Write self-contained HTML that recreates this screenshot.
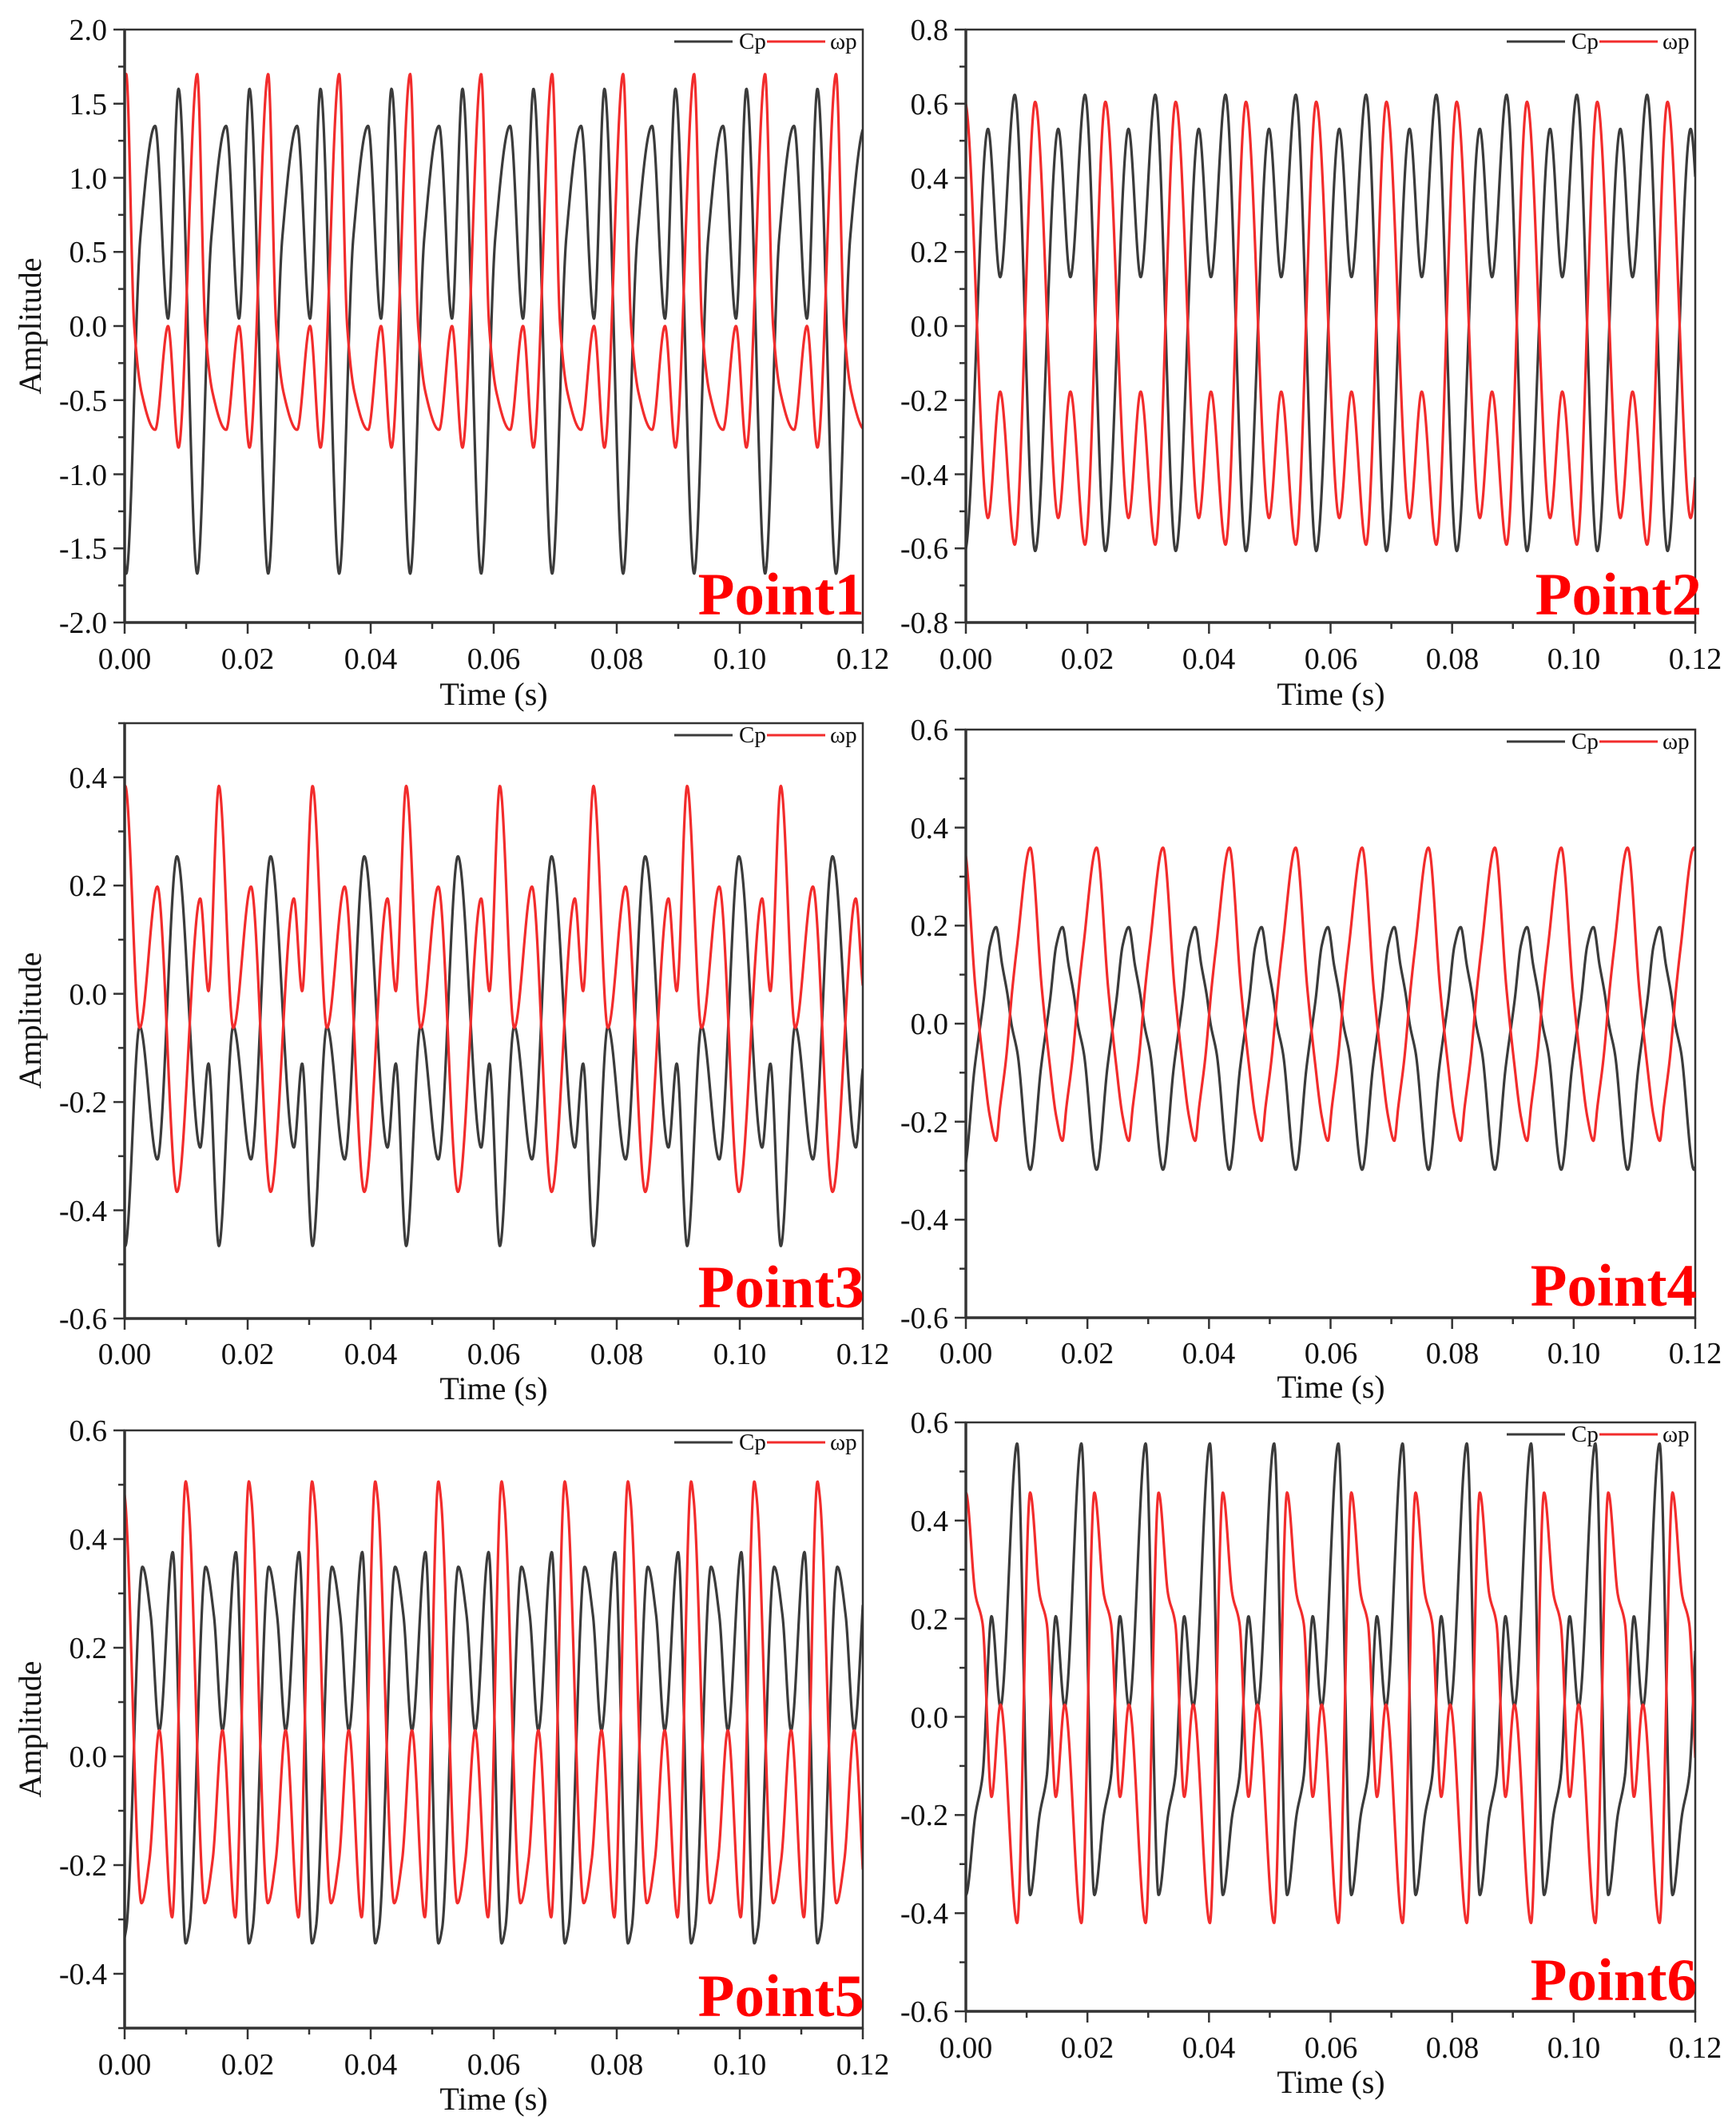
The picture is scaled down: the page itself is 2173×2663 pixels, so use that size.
<!DOCTYPE html>
<html><head><meta charset="utf-8">
<style>
html,body{margin:0;padding:0;background:#fff;}
svg{display:block;}
text{font-family:"Liberation Serif","Times New Roman",serif;fill:#111;}
.t{font-size:38px;}
.ti{font-size:40px;}
.lg{font-size:29px;}
.pt text{font-size:75px;font-weight:bold;fill:#ff0000;}
</style></head><body>
<svg id="s" width="2173" height="2663" viewBox="0 0 2173 2663" xmlns="http://www.w3.org/2000/svg">
<rect width="2173" height="2663" fill="#fff"/>
<g id="g"></g>
<g class="t" text-anchor="end">
<text x="134" y="50">2.0</text><text x="134" y="143">1.5</text><text x="134" y="236">1.0</text><text x="134" y="328">0.5</text><text x="134" y="421">0.0</text><text x="134" y="514">-0.5</text><text x="134" y="607">-1.0</text><text x="134" y="699">-1.5</text><text x="134" y="792">-2.0</text>
<text x="1187" y="50">0.8</text><text x="1187" y="143">0.6</text><text x="1187" y="236">0.4</text><text x="1187" y="328">0.2</text><text x="1187" y="421">0.0</text><text x="1187" y="514">-0.2</text><text x="1187" y="607">-0.4</text><text x="1187" y="699">-0.6</text><text x="1187" y="792">-0.8</text>
<text x="134" y="986">0.4</text><text x="134" y="1121">0.2</text><text x="134" y="1257">0.0</text><text x="134" y="1392">-0.2</text><text x="134" y="1528">-0.4</text><text x="134" y="1663">-0.6</text>
<text x="1187" y="926">0.6</text><text x="1187" y="1049">0.4</text><text x="1187" y="1171">0.2</text><text x="1187" y="1294">0.0</text><text x="1187" y="1417">-0.2</text><text x="1187" y="1539">-0.4</text><text x="1187" y="1662">-0.6</text>
<text x="134" y="1803">0.6</text><text x="134" y="1939">0.4</text><text x="134" y="2075">0.2</text><text x="134" y="2211">0.0</text><text x="134" y="2347">-0.2</text><text x="134" y="2483">-0.4</text>
<text x="1187" y="1793">0.6</text><text x="1187" y="1916">0.4</text><text x="1187" y="2039">0.2</text><text x="1187" y="2162">0.0</text><text x="1187" y="2284">-0.2</text><text x="1187" y="2407">-0.4</text><text x="1187" y="2530">-0.6</text>
</g>
<g class="t" text-anchor="middle">
<text x="156" y="837">0.00</text><text x="310" y="837">0.02</text><text x="464" y="837">0.04</text><text x="618" y="837">0.06</text><text x="772" y="837">0.08</text><text x="926" y="837">0.10</text><text x="1080" y="837">0.12</text>
<text x="1209" y="837">0.00</text><text x="1361" y="837">0.02</text><text x="1513" y="837">0.04</text><text x="1666" y="837">0.06</text><text x="1818" y="837">0.08</text><text x="1970" y="837">0.10</text><text x="2122" y="837">0.12</text>
<text x="156" y="1707">0.00</text><text x="310" y="1707">0.02</text><text x="464" y="1707">0.04</text><text x="618" y="1707">0.06</text><text x="772" y="1707">0.08</text><text x="926" y="1707">0.10</text><text x="1080" y="1707">0.12</text>
<text x="1209" y="1706">0.00</text><text x="1361" y="1706">0.02</text><text x="1513" y="1706">0.04</text><text x="1666" y="1706">0.06</text><text x="1818" y="1706">0.08</text><text x="1970" y="1706">0.10</text><text x="2122" y="1706">0.12</text>
<text x="156" y="2596">0.00</text><text x="310" y="2596">0.02</text><text x="464" y="2596">0.04</text><text x="618" y="2596">0.06</text><text x="772" y="2596">0.08</text><text x="926" y="2596">0.10</text><text x="1080" y="2596">0.12</text>
<text x="1209" y="2575">0.00</text><text x="1361" y="2575">0.02</text><text x="1513" y="2575">0.04</text><text x="1666" y="2575">0.06</text><text x="1818" y="2575">0.08</text><text x="1970" y="2575">0.10</text><text x="2122" y="2575">0.12</text>
</g>
<g class="ti" text-anchor="middle">
<text x="618" y="882">Time (s)</text><text x="1666" y="882">Time (s)</text>
<text x="618" y="1751">Time (s)</text><text x="1666" y="1749">Time (s)</text>
<text x="618" y="2640">Time (s)</text><text x="1666" y="2619">Time (s)</text>
<text transform="translate(51,408) rotate(-90)">Amplitude</text>
<text transform="translate(51,1277) rotate(-90)">Amplitude</text>
<text transform="translate(51,2164) rotate(-90)">Amplitude</text>
</g>
<g class="pt" text-anchor="end">
<text x="1082" y="769">Point1</text><text x="2130" y="769">Point2</text>
<text x="1082" y="1636">Point3</text><text x="2124" y="1634">Point4</text>
<text x="1082" y="2523">Point5</text><text x="2124" y="2503">Point6</text>
</g>
<g class="lg">
<text x="925" y="61">Cp</text><text x="1039" y="61">ωp</text>
<text x="1967" y="61">Cp</text><text x="2081" y="61">ωp</text>
<text x="925" y="929">Cp</text><text x="1039" y="929">ωp</text>
<text x="1967" y="937">Cp</text><text x="2081" y="937">ωp</text>
<text x="925" y="1814">Cp</text><text x="1039" y="1814">ωp</text>
<text x="1967" y="1804">Cp</text><text x="2081" y="1804">ωp</text>
</g>
</svg>
<script>
(function(){
var NS="http://www.w3.org/2000/svg",g=document.getElementById("g");
function el(n,a){var e=document.createElementNS(NS,n);for(var k in a)e.setAttribute(k,a[k]);g.appendChild(e);return e;}
function pchip(xs,ys){var n=xs.length,h=[],d=[],m=[];for(var i=0;i<n-1;i++){h[i]=xs[i+1]-xs[i];d[i]=(ys[i+1]-ys[i])/h[i];}
m[0]=0;m[n-1]=0;for(i=1;i<n-1;i++){if(d[i-1]*d[i]<=0)m[i]=0;else{var w1=2*h[i]+h[i-1],w2=h[i]+2*h[i-1];m[i]=(w1+w2)/(w1/d[i-1]+w2/d[i]);}}
return function(x){var lo=0,hi=n-1;while(hi-lo>1){var mid=(lo+hi)>>1;if(xs[mid]>x)hi=mid;else lo=mid;}
var hh=h[lo],t=(x-xs[lo])/hh,t2=t*t,t3=t2*t;return (2*t3-3*t2+1)*ys[lo]+(t3-2*t2+t)*hh*m[lo]+(-2*t3+3*t2)*ys[lo+1]+(t3-t2)*hh*m[lo+1];};}
var P=[
{x0:156,x1:1080,y0:37,y1:779,mn:-2,mx:2,maj:[-2,-1.5,-1,-0.5,0,0.5,1,1.5,2],mi:0.25,T:0.01154,t0:0.00026,
B:[[0,-1.67],[0.0023,0.6],[0.0047,1.35],[0.0068,0.05],[0.0085,1.6]],
R:[[0,1.7],[0.0013,0],[0.0025,-0.45],[0.0047,-0.7],[0.0068,0.0],[0.0085,-0.82]]},
{x0:1209,x1:2122,y0:37,y1:779,mn:-0.8,mx:0.8,maj:[-0.8,-0.6,-0.4,-0.2,0,0.2,0.4,0.6,0.8],mi:0.1,T:0.01156,t0:-0.00016,
B:[[0,-0.607],[0.0038,0.532],[0.0058,0.132],[0.0082,0.624]],
R:[[0,0.605],[0.0038,-0.518],[0.0058,-0.177],[0.0082,-0.59]]},
{x0:156,x1:1080,y0:905,y1:1650,mn:-0.6,mx:0.5,maj:[-0.6,-0.4,-0.2,0,0.2,0.4],mi:0.1,T:0.015224,t0:0.0001,
B:[[0,-0.466],[0.00234,-0.06],[0.00522,-0.306],[0.00841,0.254],[0.01219,-0.284],[0.01353,-0.129]],
R:[[0,0.384],[0.00234,-0.063],[0.00522,0.198],[0.00841,-0.366],[0.01219,0.176],[0.01353,0.005]]},
{x0:1209,x1:2122,y0:913,y1:1649,mn:-0.6,mx:0.6,maj:[-0.6,-0.4,-0.2,0,0.2,0.4,0.6],mi:0.1,T:0.01092,t0:-0.00033,
B:[[0,-0.298],[0.00177,-0.09],[0.00328,0.05],[0.00429,0.16],[0.0053,0.197],[0.0063,0.12],[0.00721,0.057],[0.00782,0.0],[0.00882,-0.06]],
R:[[0,0.359],[0.00192,0.07],[0.00318,-0.08],[0.00429,-0.19],[0.0053,-0.239],[0.00595,-0.17],[0.00696,-0.07],[0.00797,0.07],[0.00872,0.155]]},
{x0:156,x1:1080,y0:1790,y1:2538,mn:-0.5,mx:0.6,maj:[-0.4,-0.2,0,0.2,0.4,0.6],mi:0.1,T:0.01027,t0:-0.00034,
B:[[0,-0.344],[0.0006,-0.317],[0.00323,0.349],[0.00458,0.26],[0.00597,0.048],[0.00816,0.376]],
R:[[0,0.506],[0.0004,0.475],[0.00308,-0.27],[0.00438,-0.19],[0.00597,0.048],[0.00806,-0.296]]},
{x0:1209,x1:2122,y0:1780,y1:2517,mn:-0.6,mx:0.6,maj:[-0.6,-0.4,-0.2,0,0.2,0.4,0.6],mi:0.1,T:0.010569,t0:0,
B:[[0,-0.363],[0.00156,-0.2],[0.00275,-0.12],[0.00422,0.205],[0.00569,0.02],[0.00844,0.557]],
R:[[0,0.457],[0.00156,0.25],[0.00275,0.19],[0.00422,-0.163],[0.00569,0.025],[0.00844,-0.42]]}
];
P.forEach(function(p,idx){
 var W=p.x1-p.x0,H=p.y1-p.y0;
 function X(t){return p.x0+t/0.12*W;} function Y(v){return p.y0+(p.mx-v)/(p.mx-p.mn)*H;}
 var cid="c"+idx;var cp=el("clipPath",{id:cid});var r=document.createElementNS(NS,"rect");
 r.setAttribute("x",p.x0);r.setAttribute("y",p.y0);r.setAttribute("width",W);r.setAttribute("height",H);cp.appendChild(r);
 function series(keys,col){var xs=[],ys=[];for(var k=-2;k<=Math.ceil(0.12/p.T)+2;k++){keys.forEach(function(q){xs.push(p.t0+k*p.T+q[0]);ys.push(q[1]);});}
  var f=pchip(xs,ys),d="";for(var px=0;px<=W;px+=0.5){var t=px/W*0.12;d+=(px?"L":"M")+(p.x0+px).toFixed(1)+","+Y(f(t)).toFixed(1);}
  el("path",{d:d,fill:"none",stroke:col,"stroke-width":3.2,"stroke-linejoin":"round","clip-path":"url(#"+cid+")"});}
 series(p.B,"#3b3b3b");series(p.R,"#f22c2c");
 el("rect",{x:p.x0,y:p.y0,width:W,height:H,fill:"none",stroke:"#333","stroke-width":2.5});
 el("line",{x1:p.x0,y1:p.y0-1,x2:p.x0,y2:p.y1+1,stroke:"#333","stroke-width":3.5});
 el("line",{x1:p.x0-1,y1:p.y1,x2:p.x1+1,y2:p.y1,stroke:"#333","stroke-width":3.5});
 for(var v=p.mn;v<=p.mx+1e-9;v+=p.mi){var isM=p.maj.some(function(m){return Math.abs(m-v)<1e-6;});var yy=Y(v);
  el("line",{x1:p.x0-(isM?14:8),y1:yy,x2:p.x0,y2:yy,stroke:"#333","stroke-width":2.5});}
 for(var i=0;i<=12;i++){var xx=X(i*0.01);el("line",{x1:xx,y1:p.y1,x2:xx,y2:p.y1+(i%2?8:14),stroke:"#333","stroke-width":2.5});}
 var ly=p.y0+15;
 el("line",{x1:p.x1-236,y1:ly,x2:p.x1-163,y2:ly,stroke:"#3b3b3b","stroke-width":3});
 el("line",{x1:p.x1-120,y1:ly,x2:p.x1-47,y2:ly,stroke:"#f22c2c","stroke-width":3});
});
})();
</script>
</body></html>
